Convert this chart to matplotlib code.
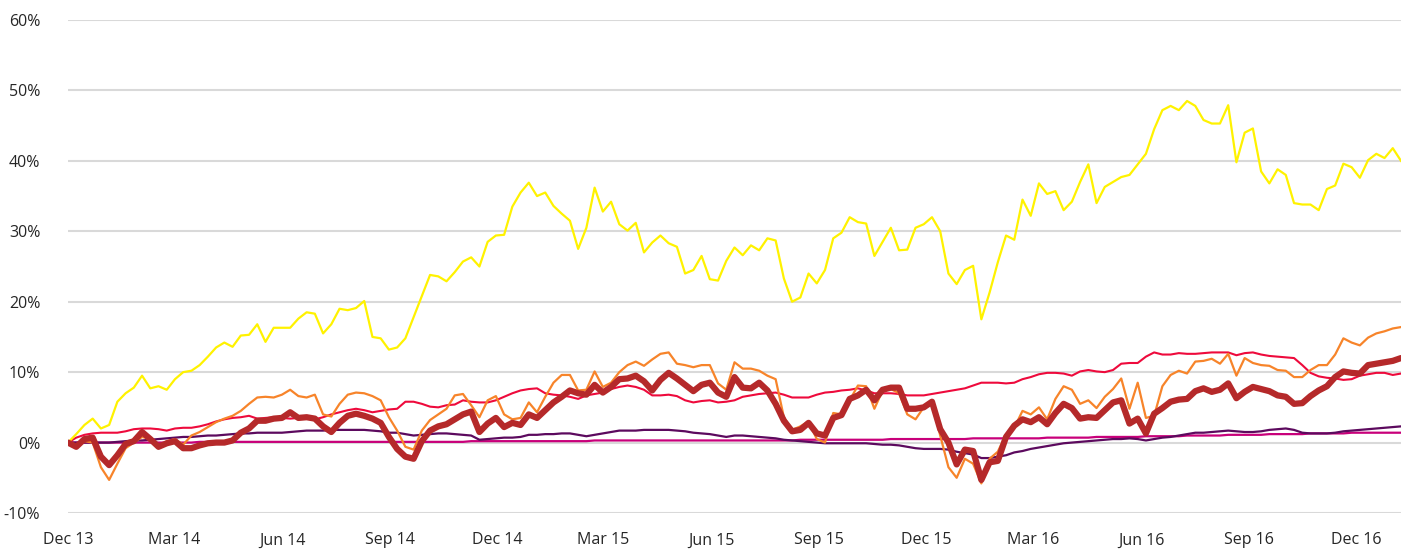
import matplotlib
matplotlib.use("Agg")
import matplotlib.pyplot as plt
import matplotlib.dates as mdates
from matplotlib.ticker import FuncFormatter
import pandas as pd

plt.rcParams['font.family'] = ['Open Sans', 'DejaVu Sans']

start_date = "2013-12-01"
n_weeks = 163

yellow = [0.0, 1.2, 2.5, 3.4, 2.0, 2.5, 5.8, 7.0, 7.8, 9.5,
          7.7, 8.0, 7.5, 9.0, 10.0, 10.2, 11.0, 12.2, 13.5, 14.2,
          13.6, 15.2, 15.3, 16.8, 14.3, 16.3, 16.3, 16.3, 17.6, 18.5,
          18.3, 15.5, 16.8, 19.0, 18.8, 19.1, 20.1, 15.0, 14.8, 13.2,
          13.5, 14.8, 17.8, 20.8, 23.8, 23.6, 22.9, 24.2, 25.7, 26.3,
          25.0, 28.5, 29.4, 29.5, 33.5, 35.5, 36.9, 35.0, 35.5, 33.6,
          32.5, 31.5, 27.5, 30.5, 36.2, 32.8, 34.2, 31.0, 30.1, 31.2,
          27.0, 28.4, 29.4, 28.3, 27.8, 24.0, 24.5, 26.5, 23.2, 23.0,
          25.8, 27.7, 26.6, 28.0, 27.3, 29.0, 28.7, 23.3, 20.0, 20.6,
          24.0, 22.6, 24.5, 29.0, 29.8, 32.0, 31.3, 31.1, 26.5, 28.5,
          30.5, 27.3, 27.4, 30.5, 31.0, 32.0, 30.0, 24.0, 22.5, 24.5,
          25.1, 17.5, 21.3, 25.6, 29.4, 28.8, 34.5, 32.2, 36.8, 35.3,
          35.7, 33.0, 34.2, 37.0, 39.5, 34.0, 36.3, 37.0, 37.7, 38.0,
          39.5, 41.0, 44.5, 47.2, 47.8, 47.2, 48.5, 47.8, 45.8, 45.3,
          45.3, 47.9, 39.8, 44.0, 44.6, 38.5, 36.8, 38.8, 38.0, 34.0,
          33.8, 33.8, 33.0, 36.0, 36.5, 39.6, 39.1, 37.6, 40.1, 41.0,
          40.4, 41.8, 40.0]

orange = [0.0, -0.3, 0.2, 0.0, -3.5, -5.3, -3.0, -0.8, 0.0, 0.8,
          0.5, -0.8, 0.2, 0.5, -0.3, 1.0, 1.5, 2.2, 2.9, 3.4,
          3.8, 4.5, 5.5, 6.4, 6.5, 6.4, 6.8, 7.5, 6.6, 6.4,
          6.8, 4.0, 3.7, 5.5, 6.8, 7.1, 7.0, 6.6, 6.0, 3.6,
          1.7, -0.6, -1.0, 1.7, 3.2, 4.0, 4.8, 6.7, 6.9, 5.3,
          3.6, 6.0, 6.6, 4.0, 3.3, 3.5, 5.7, 4.3, 6.5, 8.5,
          9.6, 9.6, 7.4, 7.5, 10.1, 7.9, 8.5, 10.0, 11.0, 11.5,
          10.9, 11.8, 12.6, 12.8, 11.2, 11.0, 10.7, 11.0, 11.0, 8.4,
          7.5, 11.4, 10.5, 10.5, 10.2, 9.5, 9.0, 3.6, 1.8, 2.3,
          3.0, 0.5, 0.0, 4.2, 4.0, 6.0, 8.1, 8.0, 4.8, 7.4,
          7.6, 7.0, 4.0, 3.3, 5.0, 5.8, 1.0, -3.5, -5.0, -2.3,
          -3.0, -5.8, -2.3, -1.3, 1.2, 2.1, 4.5, 4.0, 5.0, 3.3,
          6.2, 8.0, 7.5, 5.5, 6.0, 4.9, 6.5, 7.6, 9.1, 4.8,
          8.5, 3.5, 3.8, 8.0, 9.6, 10.2, 9.8, 11.5, 11.6, 11.9,
          11.2, 12.6, 9.5, 12.0, 11.3, 11.0, 10.9, 10.3, 10.2, 9.3,
          9.3, 10.3, 11.0, 11.0, 12.5, 14.8, 14.2, 13.8, 14.9, 15.5,
          15.8, 16.2, 16.4]

dark_red = [0.0, -0.6, 0.5, 0.7, -2.0, -3.2, -1.8, -0.2, 0.2, 1.5,
            0.5, -0.6, -0.1, 0.2, -0.8, -0.8, -0.4, -0.1, 0.0, 0.0,
            0.3, 1.4, 2.0, 3.1, 3.1, 3.4, 3.5, 4.3, 3.5, 3.6,
            3.4, 2.3, 1.5, 2.8, 3.8, 4.1, 3.8, 3.4, 2.8, 0.8,
            -0.9, -2.0, -2.3, 0.2, 1.7, 2.3, 2.6, 3.3, 4.0, 4.4,
            1.5, 2.7, 3.5, 2.2, 2.8, 2.5, 4.0, 3.5, 4.6, 5.7,
            6.5, 7.4, 7.0, 6.8, 8.2, 7.1, 7.9, 9.0, 9.1, 9.5,
            8.7, 7.4, 8.9, 9.9, 9.1, 8.2, 7.3, 8.2, 8.5, 7.1,
            6.5, 9.3, 7.8, 7.7, 8.5, 7.4, 5.5, 3.1, 1.6, 1.8,
            2.8, 1.3, 1.0, 3.5, 3.9, 6.2, 6.7, 7.5, 6.0, 7.5,
            7.8, 7.8, 4.8, 4.8, 5.0, 5.8, 1.9, 0.0, -3.1, -1.0,
            -1.2, -5.3, -2.8, -2.6, 0.8, 2.4, 3.3, 2.9, 3.6, 2.6,
            4.2, 5.5, 4.9, 3.4, 3.6, 3.5, 4.6, 5.7, 6.0, 2.7,
            3.4, 1.3, 4.1, 4.9, 5.8, 6.1, 6.2, 7.3, 7.7, 7.2,
            7.5, 8.4, 6.3, 7.2, 7.9, 7.6, 7.3, 6.7, 6.5, 5.5,
            5.6, 6.6, 7.4, 8.0, 9.3, 10.1, 9.9, 9.8, 11.0, 11.2,
            11.4, 11.6, 12.0]

crimson = [0.0, 0.7, 1.1, 1.3, 1.4, 1.4, 1.4, 1.6, 1.9, 2.0,
           2.0, 1.9, 1.7, 2.0, 2.1, 2.1, 2.3, 2.6, 3.0, 3.3,
           3.5, 3.6, 3.8, 3.4, 3.5, 3.6, 3.5, 3.4, 3.5, 3.4,
           3.3, 3.6, 4.0, 4.3, 4.6, 4.8, 4.6, 4.3, 4.5, 4.7,
           4.8, 5.8, 5.8, 5.5, 5.1, 5.0, 5.3, 5.4, 6.0, 5.8,
           5.7, 5.7, 6.0, 6.5, 7.0, 7.4, 7.6, 7.7, 7.0, 6.8,
           6.7, 6.5, 6.2, 6.7, 6.9, 7.1, 7.6, 7.9, 8.1, 7.9,
           7.5, 6.7, 6.7, 6.8, 6.6, 6.0, 5.7, 5.9, 6.0, 5.7,
           5.8, 6.0, 6.5, 6.7, 6.9, 7.0, 7.1, 6.8, 6.4, 6.4,
           6.4, 6.8, 7.1, 7.2, 7.4, 7.5, 7.7, 7.4, 7.0, 7.0,
           7.0, 6.9, 6.7, 6.7, 6.7, 6.9, 7.1, 7.3, 7.5, 7.7,
           8.1, 8.5, 8.5, 8.5, 8.4, 8.5, 9.0, 9.3, 9.7, 9.9,
           9.9, 9.8, 9.5, 10.1, 10.3, 10.1, 10.0, 10.3, 11.2, 11.3,
           11.3, 12.2, 12.8, 12.5, 12.5, 12.7, 12.6, 12.6, 12.7, 12.8,
           12.8, 12.8, 12.4, 12.7, 12.8, 12.5, 12.3, 12.2, 12.1, 12.0,
           11.0, 9.9, 9.4, 9.2, 9.1, 8.9, 9.0, 9.5, 9.7, 9.9,
           9.9, 9.6, 9.8]

purple = [0.0, 0.0, 0.0, 0.0, 0.0, 0.0, 0.1, 0.2, 0.3, 0.3,
          0.4, 0.5, 0.6, 0.7, 0.8, 0.8, 0.9, 1.0, 1.0, 1.1,
          1.2, 1.3, 1.3, 1.4, 1.4, 1.4, 1.4, 1.5, 1.6, 1.7,
          1.7, 1.7, 1.8, 1.8, 1.8, 1.8, 1.8, 1.7, 1.6, 1.4,
          1.4, 1.2, 1.0, 1.1, 1.2, 1.3, 1.3, 1.2, 1.1, 1.0,
          0.4, 0.5, 0.6, 0.7, 0.7, 0.8, 1.1, 1.1, 1.2, 1.2,
          1.3, 1.3, 1.1, 0.9, 1.1, 1.3, 1.5, 1.7, 1.7, 1.7,
          1.8, 1.8, 1.8, 1.8, 1.7, 1.6, 1.4, 1.3, 1.2, 1.0,
          0.8, 1.0, 1.0, 0.9, 0.8, 0.7, 0.6, 0.4, 0.3, 0.2,
          0.1, 0.0, -0.1, -0.1, -0.1, -0.1, -0.1, -0.1, -0.2, -0.3,
          -0.3, -0.4, -0.6, -0.8, -0.9, -0.9, -0.9, -1.0, -1.3, -1.5,
          -1.7, -2.2, -2.2, -2.0, -1.8, -1.4, -1.2, -0.9, -0.7, -0.5,
          -0.3, -0.1, 0.0, 0.1, 0.2, 0.3, 0.4, 0.5, 0.5, 0.6,
          0.5, 0.3, 0.5, 0.7, 0.8, 1.0, 1.2, 1.4, 1.4, 1.5,
          1.6, 1.7, 1.6, 1.5, 1.5, 1.6, 1.8, 1.9, 2.0, 1.8,
          1.4, 1.3, 1.3, 1.3, 1.4, 1.6, 1.7, 1.8, 1.9, 2.0,
          2.1, 2.2, 2.3]

magenta = [0.0, 0.0, 0.0, 0.0, 0.0, 0.0, 0.0, 0.0, 0.0, 0.0,
           0.0, 0.0, 0.0, 0.0, 0.0, 0.0, 0.1, 0.1, 0.1, 0.1,
           0.1, 0.1, 0.1, 0.1, 0.1, 0.1, 0.1, 0.1, 0.1, 0.1,
           0.1, 0.1, 0.1, 0.1, 0.1, 0.1, 0.1, 0.1, 0.1, 0.1,
           0.1, 0.1, 0.1, 0.1, 0.1, 0.1, 0.1, 0.1, 0.1, 0.2,
           0.2, 0.2, 0.2, 0.2, 0.2, 0.2, 0.2, 0.2, 0.2, 0.2,
           0.2, 0.2, 0.2, 0.2, 0.3, 0.3, 0.3, 0.3, 0.3, 0.3,
           0.3, 0.3, 0.3, 0.3, 0.3, 0.3, 0.3, 0.3, 0.3, 0.3,
           0.3, 0.3, 0.3, 0.3, 0.3, 0.3, 0.3, 0.3, 0.3, 0.4,
           0.4, 0.4, 0.4, 0.4, 0.4, 0.4, 0.4, 0.4, 0.4, 0.4,
           0.5, 0.5, 0.5, 0.5, 0.5, 0.5, 0.5, 0.5, 0.5, 0.5,
           0.6, 0.6, 0.6, 0.6, 0.6, 0.6, 0.6, 0.6, 0.6, 0.7,
           0.7, 0.7, 0.7, 0.7, 0.7, 0.8, 0.8, 0.8, 0.8, 0.8,
           0.8, 0.9, 0.9, 0.9, 0.9, 0.9, 1.0, 1.0, 1.0, 1.0,
           1.0, 1.1, 1.1, 1.1, 1.1, 1.1, 1.2, 1.2, 1.2, 1.2,
           1.2, 1.3, 1.3, 1.3, 1.3, 1.3, 1.4, 1.4, 1.4, 1.4,
           1.4, 1.4, 1.4]

tick_dates = ["2013-12-01", "2014-03-01", "2014-06-01", "2014-09-01",
              "2014-12-01", "2015-03-01", "2015-06-01", "2015-09-01",
              "2015-12-01", "2016-03-01", "2016-06-01", "2016-09-01",
              "2016-12-01"]
tick_labels = ["Dec 13", "Mar 14", "Jun 14", "Sep 14", "Dec 14", "Mar 15",
               "Jun 15", "Sep 15", "Dec 15", "Mar 16", "Jun 16", "Sep 16",
               "Dec 16"]
y_ticks = [-10, 0, 10, 20, 30, 40, 50, 60]

dates = pd.date_range(start_date, periods=n_weeks, freq="7D")

fig = plt.figure(figsize=(14.10, 5.54), dpi=100)
ax = fig.add_axes([68 / 1410, 1 - 513 / 554, 1333 / 1410, 493 / 554])

ax.plot(dates, magenta, color="#C8007A", lw=1.6, zorder=3)
ax.plot(dates, purple, color="#5C0A5E", lw=1.6, zorder=3)
ax.plot(dates, crimson, color="#EE0A3C", lw=1.5, zorder=4)
ax.plot(dates, orange, color="#F7842A", lw=1.6, zorder=5)
ax.plot(dates, yellow, color="#FFF200", lw=1.6, zorder=5)
ax.plot(dates, dark_red, color="#B5292A", lw=4.5, zorder=6,
        solid_joinstyle="round", solid_capstyle="round")

ax.set_xlim(dates[0], dates[-1])
ax.set_ylim(-10, 60)
ax.set_yticks(y_ticks)
ax.yaxis.set_major_formatter(FuncFormatter(lambda v, p: f"{int(v)}%"))
ax.set_xticks(pd.to_datetime(tick_dates))
ax.set_xticklabels(tick_labels)

ax.grid(axis="y", color="#D9D9D9", lw=1.5, zorder=0)
ax.grid(axis="x", visible=False)
for s in ax.spines.values():
    s.set_visible(False)
ax.tick_params(axis="both", length=0, labelsize=11.5, labelcolor="#262626")
ax.tick_params(axis="y", pad=20)
ax.tick_params(axis="x", pad=14)

fig.savefig("out.png", dpi=100)
